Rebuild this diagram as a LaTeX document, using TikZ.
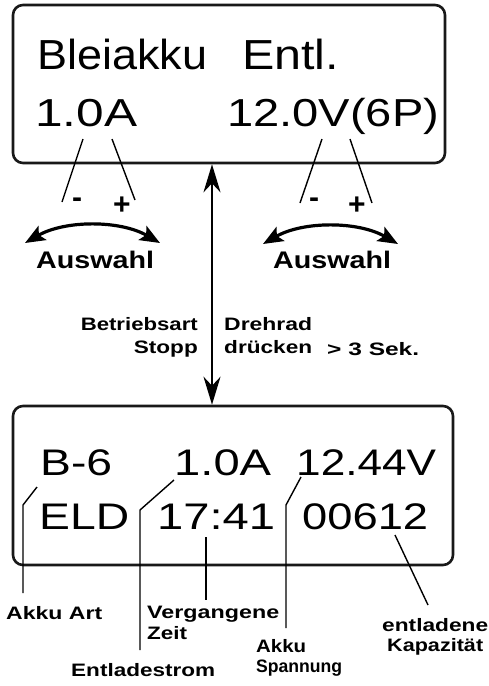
\documentclass[tikz,border=0pt]{standalone}
\usepackage{fontspec}
\setmainfont{Liberation Sans}
\usetikzlibrary{arrows.meta}
\newcommand\fw[2]{\resizebox{#1}{\height}{#2}}
\begin{document}
\begin{tikzpicture}[x=1pt,y=-1pt,
  lcdA/.style={anchor=base west,inner sep=0pt,font=\fontsize{42}{48}\selectfont},
  lcdB/.style={anchor=base west,inner sep=0pt,font=\fontsize{39}{46}\selectfont},
  lcdC/.style={anchor=base west,inner sep=0pt,font=\fontsize{37}{44}\selectfont},
  lbl/.style={anchor=base west,inner sep=0pt,font=\bfseries\fontsize{18}{21}\selectfont},
  lblr/.style={lbl,anchor=base east},
  sel/.style={anchor=base west,inner sep=0pt,font=\bfseries\fontsize{24}{28}\selectfont},
  pm/.style={inner sep=0pt,font=\bfseries\fontsize{30}{32}\selectfont},
  display/.style={draw=black!90,line width=2.6pt,rounded corners=10pt,inner sep=0pt},
  leader/.style={draw=black,line width=1.4pt},
  selarrow/.style={draw=black,line width=3.2pt,{Stealth[length=20pt,width=16pt,inset=4pt]}-{Stealth[length=20pt,width=16pt,inset=4pt]}},
  modearrow/.style={draw=black,line width=2.4pt,{Stealth[length=28pt,width=17pt,inset=9pt]}-{Stealth[length=28pt,width=17pt,inset=9pt]}}
]
\useasboundingbox (0,0) rectangle (489,686);
\fill[white] (0,0) rectangle (489,686);

% display boxes
\node[display,minimum width=432pt,minimum height=158pt] (top) at (229,84) {};
\node[display,minimum width=440pt,minimum height=159pt] (bot) at (233,485.5) {};

% top display text
\node[lcdA] (t1) at (37,69) {\fw{170pt}{Bleiakku}};
\node[lcdA] (t2) at (242,69) {\fw{97pt}{Entl.}};
\node[lcdB] (t3) at (35,126) {\fw{102pt}{1.0A}};
\node[lcdB] (t4) at (227,126) {\fw{212pt}{12.0V(6P)}};

% selection leaders
\coordinate (m1a) at (83,139); \coordinate (m1b) at (62,202);
\coordinate (p1a) at (112,139); \coordinate (p1b) at (135,200);
\coordinate (m2a) at (322,139); \coordinate (m2b) at (300,203);
\coordinate (p2a) at (350,139); \coordinate (p2b) at (372,203);
\draw[leader] (m1a) -- (m1b);
\draw[leader] (p1a) -- (p1b);
\draw[leader] (m2a) -- (m2b);
\draw[leader] (p2a) -- (p2b);
\node[pm] (mi1) at (77,203) {-};
\node[pm] (pl1) at (122,206) {+};
\node[pm] (mi2) at (314,203) {-};
\node[pm] (pl2) at (357,206) {+};

% Auswahl arcs
\coordinate (a1l) at (25,243); \coordinate (a1r) at (160,243);
\coordinate (a2l) at (263,244); \coordinate (a2r) at (398,244);
\draw[selarrow] (a1l) .. controls (65,220) and (120,220) .. (a1r);
\draw[selarrow] (a2l) .. controls (303,221) and (358,221) .. (a2r);
\node[sel] (aw1) at (36,268) {\fw{118pt}{Auswahl}};
\node[sel] (aw2) at (273,268) {\fw{118pt}{Auswahl}};

% mode arrow
\coordinate (ax) at (212,0);
\draw[modearrow] (top.south -| ax) -- (bot.north -| ax);
\node[lblr] (b1) at (198,330) {\fw{117pt}{Betriebsart}};
\node[lblr] (b2) at (198,353) {\fw{64pt}{Stopp}};
\node[lbl] (d1) at (224,330) {\fw{88pt}{Drehrad}};
\node[lbl] (d2) at (224,353) {\fw{88pt}{drücken}};
\node[lbl] (d3) at (327,355) {\fw{92pt}{> 3 Sek.}};

% bottom display text
\node[lcdC] (u1) at (40,475) {\fw{72pt}{B-6}};
\node[lcdC] (u2) at (174,475) {\fw{97pt}{1.0A}};
\node[lcdC] (u3) at (296,475) {\fw{140pt}{12.44V}};
\node[lcdC] (v1) at (39,529) {\fw{90pt}{ELD}};
\node[lcdC] (v2) at (157,529) {\fw{118pt}{17:41}};
\node[lcdC] (v3) at (302,529) {\fw{126pt}{00612}};

% bottom leaders
\coordinate (k1) at (37,487); \coordinate (k2) at (23,505); \coordinate (k3) at (23,593);
\coordinate (e1) at (174,480); \coordinate (e2) at (140,510); \coordinate (e3) at (140,650);
\coordinate (z1) at (206,537); \coordinate (z2) at (206,600);
\coordinate (s1) at (301,477); \coordinate (s2) at (286,505); \coordinate (s3) at (286,628);
\coordinate (c1) at (395,535); \coordinate (c2) at (428,605);
\draw[leader] (k1) -- (k2) -- (k3);
\draw[leader] (e1) -- (e2) -- (e3);
\draw[leader] (z1) -- (z2);
\draw[leader] (s1) -- (s2) -- (s3);
\draw[leader] (c1) -- (c2);

% bottom labels
\node[lbl] (l1) at (6,619) {\fw{96pt}{Akku Art}};
\node[lbl] (l2) at (147,618) {\fw{132pt}{Vergangene}};
\node[lbl] (l3) at (147,639) {\fw{40pt}{Zeit}};
\node[lbl] (l4) at (71,676) {\fw{144pt}{Entladestrom}};
\node[lbl] (l5) at (256,652) {\fw{50pt}{Akku}};
\node[lbl] (l6) at (256,672) {\fw{86pt}{Spannung}};
\node[lbl] (l7) at (382,631) {\fw{106pt}{entladene}};
\node[lbl] (l8) at (387,651) {\fw{96pt}{Kapazität}};
\end{tikzpicture}
\end{document}
